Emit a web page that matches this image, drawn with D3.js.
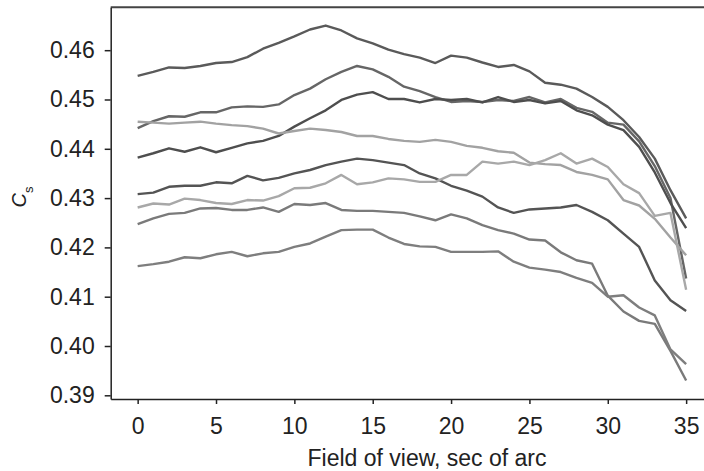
<!DOCTYPE html>
<html>
<head>
<meta charset="utf-8">
<script src="https://cdn.jsdelivr.net/npm/d3@7.9.0/dist/d3.min.js"></script>
<style>
  body { margin: 0; background: #fff; }
  svg { display: block; }
  .tick text { font-family: "Liberation Sans", Arial, sans-serif; fill: #222; }
</style>
</head>
<body>
<svg id="chart" width="704" height="471"></svg>
<script>
// field of view (sec of arc), 0..35
const fov = d3.range(0, 36);

const xTicks = [0, 5, 10, 15, 20, 25, 30, 35];
const yTicks = [0.39, 0.40, 0.41, 0.42, 0.43, 0.44, 0.45, 0.46];
const yTickLabels = ['0.39', '0.40', '0.41', '0.42', '0.43', '0.44', '0.45', '0.46'];

// one curve per run
const cs1 = [0.4548, 0.4556, 0.4565, 0.4564, 0.4568, 0.4574, 0.4576, 0.4586, 0.4603, 0.4615,
  0.4628, 0.4642, 0.4650, 0.4640, 0.4624, 0.4614, 0.4601, 0.4592, 0.4585, 0.4574,
  0.4589, 0.4585, 0.4575, 0.4566, 0.4570, 0.4557, 0.4534, 0.4530, 0.4522, 0.4505,
  0.4485, 0.4458, 0.4424, 0.4380, 0.4316, 0.4259];
const cs2 = [0.4442, 0.4456, 0.4466, 0.4465, 0.4474, 0.4474, 0.4484, 0.4486, 0.4485, 0.4490,
  0.4509, 0.4522, 0.4541, 0.4556, 0.4568, 0.4561, 0.4546, 0.4526, 0.4517, 0.4505,
  0.4495, 0.4497, 0.4495, 0.4499, 0.4497, 0.4505, 0.4494, 0.4501, 0.4483, 0.4475,
  0.4453, 0.4449, 0.4415, 0.4365, 0.4300, 0.4137];
const cs3 = [0.4382, 0.4391, 0.4401, 0.4394, 0.4403, 0.4393, 0.4402, 0.4411, 0.4416, 0.4426,
  0.4445, 0.4462, 0.4478, 0.4499, 0.4510, 0.4515, 0.4501, 0.4501, 0.4494, 0.4501,
  0.4499, 0.4501, 0.4494, 0.4505, 0.4495, 0.4499, 0.4492, 0.4497, 0.4478, 0.4468,
  0.4449, 0.4438, 0.4404, 0.4352, 0.4290, 0.4239];
const cs4 = [0.4455, 0.4453, 0.4451, 0.4453, 0.4455, 0.4451, 0.4448, 0.4446, 0.4441, 0.4431,
  0.4436, 0.4441, 0.4438, 0.4434, 0.4426, 0.4426, 0.4420, 0.4416, 0.4414, 0.4418,
  0.4414, 0.4406, 0.4402, 0.4395, 0.4392, 0.4372, 0.4369, 0.4367, 0.4353, 0.4347,
  0.4338, 0.4296, 0.4285, 0.4258, 0.4220, 0.4184];
const cs5 = [0.4308, 0.4311, 0.4323, 0.4325, 0.4325, 0.4332, 0.4330, 0.4345, 0.4336, 0.4341,
  0.4350, 0.4357, 0.4367, 0.4374, 0.4380, 0.4377, 0.4372, 0.4367, 0.4350, 0.4340,
  0.4325, 0.4315, 0.4303, 0.4281, 0.4270, 0.4277, 0.4279, 0.4281, 0.4286, 0.4272,
  0.4255, 0.4228, 0.4201, 0.4133, 0.4093, 0.4071];
const cs6 = [0.4281, 0.4289, 0.4287, 0.4299, 0.4296, 0.4290, 0.4288, 0.4296, 0.4295, 0.4304,
  0.4320, 0.4321, 0.4330, 0.4347, 0.4328, 0.4332, 0.4340, 0.4338, 0.4333, 0.4333,
  0.4347, 0.4347, 0.4374, 0.4370, 0.4374, 0.4367, 0.4377, 0.4391, 0.4370, 0.4380,
  0.4363, 0.4328, 0.4310, 0.4264, 0.4270, 0.4114];
const cs7 = [0.4247, 0.4259, 0.4268, 0.4270, 0.4279, 0.4280, 0.4276, 0.4276, 0.4281, 0.4272,
  0.4288, 0.4286, 0.4290, 0.4276, 0.4274, 0.4274, 0.4272, 0.4270, 0.4263, 0.4255,
  0.4267, 0.4259, 0.4245, 0.4235, 0.4228, 0.4216, 0.4214, 0.4190, 0.4174, 0.4167,
  0.4102, 0.4070, 0.4051, 0.4045, 0.3990, 0.3930];
const cs8 = [0.4162, 0.4166, 0.4171, 0.4180, 0.4178, 0.4186, 0.4191, 0.4182, 0.4188, 0.4191,
  0.4201, 0.4208, 0.4222, 0.4235, 0.4236, 0.4236, 0.4220, 0.4207, 0.4202, 0.4201,
  0.4191, 0.4191, 0.4191, 0.4192, 0.4171, 0.4159, 0.4155, 0.4150, 0.4138, 0.4128,
  0.4100, 0.4103, 0.4078, 0.4062, 0.3993, 0.3963];

const series = [cs1, cs2, cs3, cs4, cs5, cs6, cs7, cs8];
const shades = ['#5a5a5a', '#666666', '#4e4e4e', '#a2a2a2', '#545454', '#a8a8a8', '#7a7a7a', '#7e7e7e'];

const svg = d3.select('#chart');
const mLeft = 110.7, mRight = 704, mTop = 7.3, mBottom = 399;

// plot frame runs past the right edge, as in the source figure
let x = d3.scaleLinear().domain([-1.72, 36.14]).range([mLeft, mRight]);
let y = d3.scaleLinear().domain([0.38925, 0.4687]).range([mBottom, mTop]);

let line = d3.line()
  .x((d, i) => x(fov[i]))
  .y((d) => y(d));

series.forEach((s, idx) => {
  svg.append('path')
    .datum(s)
    .attr('d', line)
    .attr('fill', 'none')
    .attr('stroke', shades[idx])
    .attr('stroke-width', 2.4)
    .attr('stroke-linejoin', 'round');
});

// top border
svg.append('line')
  .attr('x1', mLeft).attr('x2', mRight)
  .attr('y1', mTop).attr('y2', mTop)
  .attr('stroke', '#444').attr('stroke-width', 2);

let xAxis = d3.axisBottom(x).tickValues(xTicks).tickSize(5).tickPadding(14).tickSizeOuter(0);
let gx = svg.append('g').attr('transform', `translate(0,${mBottom})`).call(xAxis);
gx.select('.domain').attr('stroke', '#222').attr('stroke-width', 1.5);
gx.selectAll('.tick line').attr('stroke', '#222').attr('stroke-width', 1.5);
gx.selectAll('.tick text').attr('font-size', 23);

let yAxis = d3.axisLeft(y).tickValues(yTicks).tickFormat((d, i) => yTickLabels[i])
  .tickSize(6).tickPadding(10).tickSizeOuter(0);
let gy = svg.append('g').attr('transform', `translate(${mLeft},0)`).call(yAxis);
gy.select('.domain').attr('stroke', '#222').attr('stroke-width', 1.5);
gy.selectAll('.tick line').attr('stroke', '#222').attr('stroke-width', 1.5);
gy.selectAll('.tick text').attr('font-size', 23);

// axis titles
svg.append('text')
  .attr('x', 427).attr('y', 466)
  .attr('text-anchor', 'middle')
  .attr('font-family', '"Liberation Sans", Arial, sans-serif')
  .attr('font-size', 23)
  .attr('fill', '#222')
  .text('Field of view, sec of arc');

let yl = svg.append('text')
  .attr('transform', 'translate(25.5,197) rotate(-90)')
  .attr('text-anchor', 'middle')
  .attr('font-family', '"Liberation Sans", Arial, sans-serif')
  .attr('fill', '#222');
yl.append('tspan').attr('font-size', 20).attr('font-style', 'italic').text('C');
yl.append('tspan').attr('font-size', 13).attr('dy', 7).text('s');
</script>
</body>
</html>
